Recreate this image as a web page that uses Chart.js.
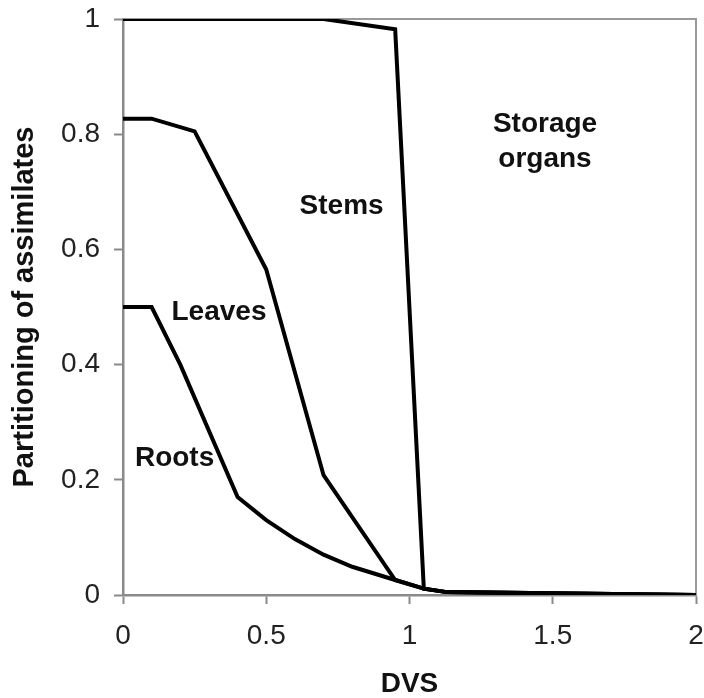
<!DOCTYPE html>
<html>
<head>
<meta charset="utf-8">
<script src="https://cdn.jsdelivr.net/npm/chart.js@4/dist/chart.umd.min.js"></script>
<style>
  html, body { margin: 0; padding: 0; background: #fff; }
  #wrap { width: 704px; height: 698px; }
</style>
</head>
<body>
<div id="wrap"><canvas id="c" width="704" height="698"></canvas></div>
<script>
// ---- data (cumulative partitioning boundaries) ----
const rootsDvs   = [0, 0.1, 0.2, 0.4, 0.5, 0.6, 0.7, 0.8, 0.95, 1.05, 1.13, 2];
const rootsFrac  = [0.5, 0.5, 0.4, 0.17, 0.13, 0.097, 0.07, 0.049, 0.026, 0.011, 0.005, 0];

const leavesDvs  = [0, 0.1, 0.25, 0.5, 0.7, 0.95, 1.05, 1.13, 2];
const leavesFrac = [0.827, 0.827, 0.805, 0.565, 0.208, 0.026, 0.011, 0.005, 0];

const stemsDvs   = [0, 0.7, 0.95, 1.05, 1.13, 2];
const stemsFrac  = [1, 1, 0.982, 0.011, 0.005, 0];

const xTickValues = [0, 0.5, 1, 1.5, 2];
const xTickLabels = ['0', '0.5', '1', '1.5', '2'];
const yTickValues = [0, 0.2, 0.4, 0.6, 0.8, 1];
const yTickLabels = ['0', '0.2', '0.4', '0.6', '0.8', '1'];

const regionLabels = ['Stems', 'Leaves', 'Roots', 'Storage', 'organs'];
const regionDvs    = [0.763, 0.335, 0.18, 1.473, 1.473];
const regionFrac   = [0.675, 0.49, 0.238, 0.818, 0.756];

const xTitle = 'DVS';
const yTitle = 'Partitioning of assimilates';

// ---- build ----
const toPts = (xs, ys) => xs.map((x, i) => ({ x: x, y: ys[i] }));
const FONT = "'Liberation Sans', Arial, sans-serif";
const lineStyle = { showLine: true, borderColor: '#000', borderWidth: 4, pointRadius: 0, fill: false, tension: 0, borderJoinStyle: 'miter' };

const framePlugin = {
  id: 'frame',
  beforeDatasetsDraw(chart) {
    const { ctx, chartArea: a } = chart;
    ctx.save();
    ctx.strokeStyle = '#9a9a9a';
    ctx.lineWidth = 2;
    ctx.beginPath();
    ctx.moveTo(a.left, a.top);
    ctx.lineTo(a.right, a.top);
    ctx.lineTo(a.right, a.bottom);
    ctx.stroke();
    ctx.restore();
  }
};

const labelPlugin = {
  id: 'regionLabels',
  afterDatasetsDraw(chart) {
    const { ctx, scales } = chart;
    ctx.save();
    ctx.fillStyle = '#111';
    ctx.font = "bold 28px " + FONT;
    ctx.textAlign = 'center';
    ctx.textBaseline = 'middle';
    regionLabels.forEach((t, i) => {
      ctx.fillText(t, scales.x.getPixelForValue(regionDvs[i]), scales.y.getPixelForValue(regionFrac[i]));
    });
    ctx.restore();
  }
};

new Chart(document.getElementById('c'), {
  type: 'scatter',
  data: {
    datasets: [
      Object.assign({ label: 'Roots', data: toPts(rootsDvs, rootsFrac) }, lineStyle),
      Object.assign({ label: 'Leaves', data: toPts(leavesDvs, leavesFrac) }, lineStyle),
      Object.assign({ label: 'Stems', data: toPts(stemsDvs, stemsFrac) }, lineStyle)
    ]
  },
  options: {
    responsive: false,
    animation: false,
    events: [],
    layout: { padding: { left: 0, right: 8, top: 19, bottom: 0 } },
    plugins: { legend: { display: false }, tooltip: { enabled: false } },
    scales: {
      x: {
        type: 'linear', min: 0, max: 2,
        afterBuildTicks(s) { s.ticks = xTickValues.map(v => ({ value: v })); },
        afterFit(s) { s.height = 103; s.paddingLeft = 0; s.paddingRight = 0; },
        ticks: {
          callback: (v) => xTickLabels[xTickValues.indexOf(v)],
          color: '#222', padding: 15, maxRotation: 0, autoSkip: false,
          font: { family: FONT, size: 28 }
        },
        grid: { drawOnChartArea: false, drawTicks: true, tickLength: 9, color: '#8a8a8a', tickWidth: 2 },
        border: { display: true, color: '#8a8a8a', width: 2.5 },
        title: {
          display: true, text: xTitle, color: '#111',
          font: { family: FONT, size: 28, weight: 'bold', lineHeight: 1 },
          padding: { top: 0, bottom: 0 }
        }
      },
      y: {
        type: 'linear', min: 0, max: 1,
        afterBuildTicks(s) { s.ticks = yTickValues.map(v => ({ value: v })); },
        afterFit(s) { s.width = 123; s.paddingTop = 0; s.paddingBottom = 0; },
        ticks: {
          callback: (v) => yTickLabels[yTickValues.findIndex(t => Math.abs(t - v) < 1e-9)],
          color: '#222', padding: 14, autoSkip: false,
          font: { family: FONT, size: 28 }
        },
        grid: { drawOnChartArea: false, drawTicks: true, tickLength: 9, color: '#8a8a8a', tickWidth: 2 },
        border: { display: true, color: '#8a8a8a', width: 2.5 },
        title: {
          display: true, text: yTitle, color: '#111',
          font: { family: FONT, size: 29, weight: 'bold', lineHeight: 1 },
          padding: { top: 10, bottom: 0 }
        }
      }
    }
  },
  plugins: [framePlugin, labelPlugin]
});
</script>
</body>
</html>
